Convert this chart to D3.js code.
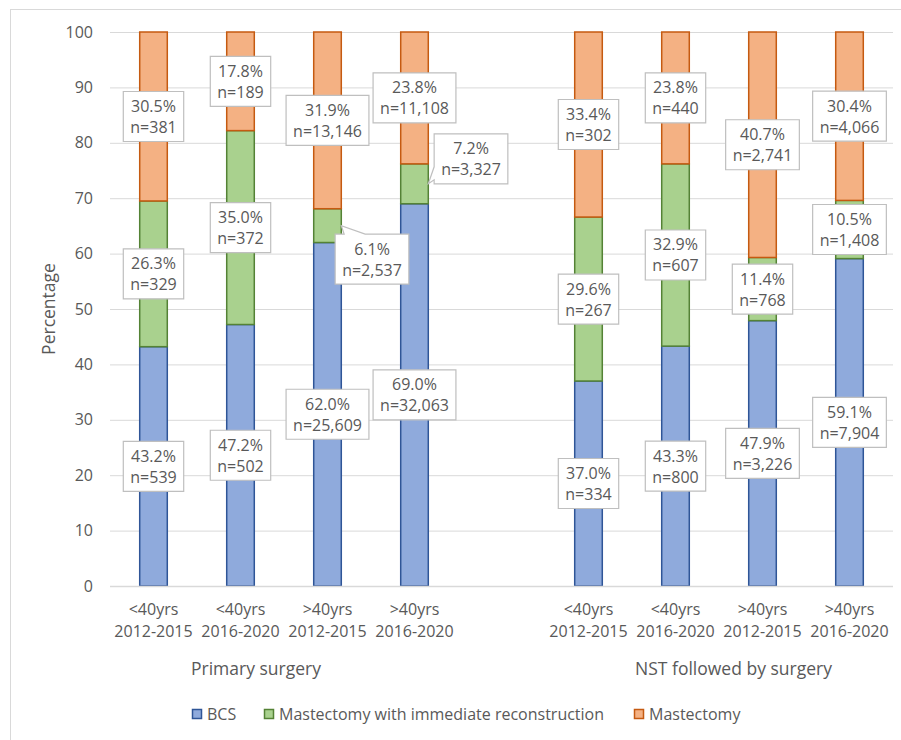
<!DOCTYPE html>
<html>
<head>
<meta charset="utf-8">
<script src="https://cdn.jsdelivr.net/npm/d3@7"></script>
<style>
  html, body { margin: 0; padding: 0; background: #fff; }
  svg { display: block; }
  text { font-family: "Open Sans", "Liberation Sans", sans-serif; fill: #595959; }
</style>
</head>
<body>
<svg id="chart" width="901" height="740"></svg>
<script>
// ---------------- DATA ----------------
const ageGroups = ["<40yrs", "<40yrs", ">40yrs", ">40yrs", "<40yrs", "<40yrs", ">40yrs", ">40yrs"];
const periods = ["2012-2015", "2016-2020", "2012-2015", "2016-2020", "2012-2015", "2016-2020", "2012-2015", "2016-2020"];
const surgeryGroups = ["Primary surgery", "NST followed by surgery"];
const groupOf = [0, 0, 0, 0, 1, 1, 1, 1];
const seriesNames = ["BCS", "Mastectomy with immediate reconstruction", "Mastectomy"];
const bcsPct   = [43.2, 47.2, 62.0, 69.0, 37.0, 43.3, 47.9, 59.1];
const reconPct = [26.3, 35.0, 6.1, 7.2, 29.6, 32.9, 11.4, 10.5];
const mastPct  = [30.5, 17.8, 31.9, 23.8, 33.4, 23.8, 40.7, 30.4];
const bcsN   = ["539", "502", "25,609", "32,063", "334", "800", "3,226", "7,904"];
const reconN = ["329", "372", "2,537", "3,327", "267", "607", "768", "1,408"];
const mastN  = ["381", "189", "13,146", "11,108", "302", "440", "2,741", "4,066"];
const yTicks = [0, 10, 20, 30, 40, 50, 60, 70, 80, 90, 100];
const yTitle = "Percentage";

// ---------------- STYLE / LAYOUT ----------------
const fills   = ["#8faadc", "#a9d18e", "#f4b183"];
const strokes = ["#2f5597", "#548235", "#c55a11"];
const plot = { left: 110, right: 893, top: 32, bottom: 586 };
// callout labels: offset of box centre from segment centre (px)
const callouts = { "2-1": { dx: 44.5, dy: 33.5, side: "top" }, "3-1": { dx: 56.5, dy: -25, side: "left" } };

const svg = d3.select("#chart");

// outer border
svg.append("rect").attr("x", 10.5).attr("y", 9.5).attr("width", 900).attr("height", 740)
  .attr("fill", "none").attr("stroke", "#d9d9d9").attr("stroke-width", 1);

const slotKeys = ["c0", "c1", "c2", "c3", "gap", "c4", "c5", "c6", "c7"];
const x = d3.scaleBand().domain(slotKeys).range([plot.left, plot.right])
  .paddingInner(0.683).paddingOuter(0.3415);
const y = d3.scaleLinear().domain([0, 100]).range([plot.bottom, plot.top]);

// gridlines
svg.append("g").selectAll("line").data(yTicks).join("line")
  .attr("x1", plot.left).attr("x2", plot.right)
  .attr("y1", d => y(d) + 0.5).attr("y2", d => y(d) + 0.5)
  .attr("stroke", "#d9d9d9").attr("stroke-width", 1);

// y axis labels
const yAxis = d3.axisLeft(y).tickValues(yTicks).tickSize(0).tickPadding(0);
const yg = svg.append("g").attr("transform", `translate(${93},0)`).call(yAxis);
yg.select(".domain").remove();
yg.selectAll("text").attr("font-size", 16).style("font-family", '"Open Sans", sans-serif').attr("fill", "#595959");

// y title
svg.append("text").attr("transform", `translate(48,${(plot.top + plot.bottom) / 2}) rotate(-90)`)
  .attr("text-anchor", "middle").attr("dominant-baseline", "central")
  .attr("font-size", 17.5).text(yTitle);

// data
const rows = bcsPct.map((d, i) => ({ key: "c" + i, idx: i, s0: bcsPct[i], s1: reconPct[i], s2: mastPct[i] }));
const nArr = [bcsN, reconN, mastN];
const stack = d3.stack().keys(["s0", "s1", "s2"]);
const series = stack(rows);

const bw = x.bandwidth();
series.forEach((ser, si) => {
  svg.append("g").selectAll("rect").data(ser).join("rect")
    .attr("x", d => x(d.data.key))
    .attr("y", d => y(d[1]))
    .attr("width", bw)
    .attr("height", d => y(d[0]) - y(d[1]))
    .attr("fill", fills[si])
    .attr("stroke", strokes[si]).attr("stroke-width", 1.5);
});

// baseline
svg.append("line").attr("x1", plot.left).attr("x2", plot.right)
  .attr("y1", y(0) + 0.5).attr("y2", y(0) + 0.5).attr("stroke", "#d9d9d9").attr("stroke-width", 1.5);

// data labels
const labelG = svg.append("g");
series.forEach((ser, si) => {
  ser.forEach(d => {
    const i = d.data.idx;
    const cx = x(d.data.key) + bw / 2;
    const cy = (y(d[0]) + y(d[1])) / 2;
    const co = callouts[i + "-" + si];
    const bx = co ? cx + co.dx : cx;
    const by = co ? cy + co.dy : cy;
    const g = labelG.append("g");
    const t1 = g.append("text").attr("x", bx).attr("y", by - 10.5).attr("text-anchor", "middle")
      .attr("dominant-baseline", "central").attr("font-size", 16)
      .text(d3.format(".1f")(d.data["s" + si]) + "%");
    const t2 = g.append("text").attr("x", bx).attr("y", by + 10.5).attr("text-anchor", "middle")
      .attr("dominant-baseline", "central").attr("font-size", 16)
      .text("n=" + nArr[si][i]);
    const w = Math.max(t1.node().getComputedTextLength(), t2.node().getComputedTextLength()) + 14;
    const h = 50;
    const left = bx - w / 2, top = by - h / 2;
    let path;
    if (!co) {
      path = `M${left},${top}h${w}v${h}h${-w}Z`;
    } else if (co.side === "top") {
      const tipX = cx + bw / 2, tipY = cy;
      path = `M${left},${top}L${left + 9},${top}L${tipX},${tipY}L${left + 30},${top}L${left + w},${top}v${h}h${-w}Z`;
    } else {
      const tipX = cx + bw / 2, tipY = cy;
      path = `M${left},${top}h${w}v${h}h${-w}L${left},${top + h - 4}L${tipX},${tipY}L${left},${top + h - 17}Z`;
    }
    g.insert("path", "text").attr("d", path).attr("fill", "#fff").attr("stroke", "#bfbfbf").attr("stroke-width", 1.2);
  });
});

// x category labels
const xl = svg.append("g");
rows.forEach((r, i) => {
  const cx = x(r.key) + bw / 2;
  xl.append("text").attr("x", cx).attr("y", 609).attr("text-anchor", "middle")
    .attr("dominant-baseline", "central").attr("font-size", 16).text(ageGroups[i]);
  xl.append("text").attr("x", cx).attr("y", 631).attr("text-anchor", "middle")
    .attr("dominant-baseline", "central").attr("font-size", 16).text(periods[i]);
});
// group labels
const groupShift = [-28, 14.5];
surgeryGroups.forEach((g, gi) => {
  const idxs = groupOf.map((v, i) => v === gi ? i : -1).filter(v => v >= 0);
  const c0 = x("c" + idxs[0]) + bw / 2, c1 = x("c" + idxs[idxs.length - 1]) + bw / 2;
  svg.append("text").attr("x", (c0 + c1) / 2 + groupShift[gi]).attr("y", 668)
    .attr("text-anchor", "middle").attr("dominant-baseline", "central").attr("font-size", 17.5).text(g);
});

// legend
const legendX = [192, 264, 634];
const lg = svg.append("g");
seriesNames.forEach((n, i) => {
  lg.append("rect").attr("x", legendX[i] + 0.5).attr("y", 709.5).attr("width", 9).attr("height", 9)
    .attr("fill", fills[i]).attr("stroke", strokes[i]).attr("stroke-width", 1.5);
  lg.append("text").attr("x", legendX[i] + 15).attr("y", 714).attr("dominant-baseline", "central")
    .attr("font-size", 16).text(n);
});
</script>
</body>
</html>
